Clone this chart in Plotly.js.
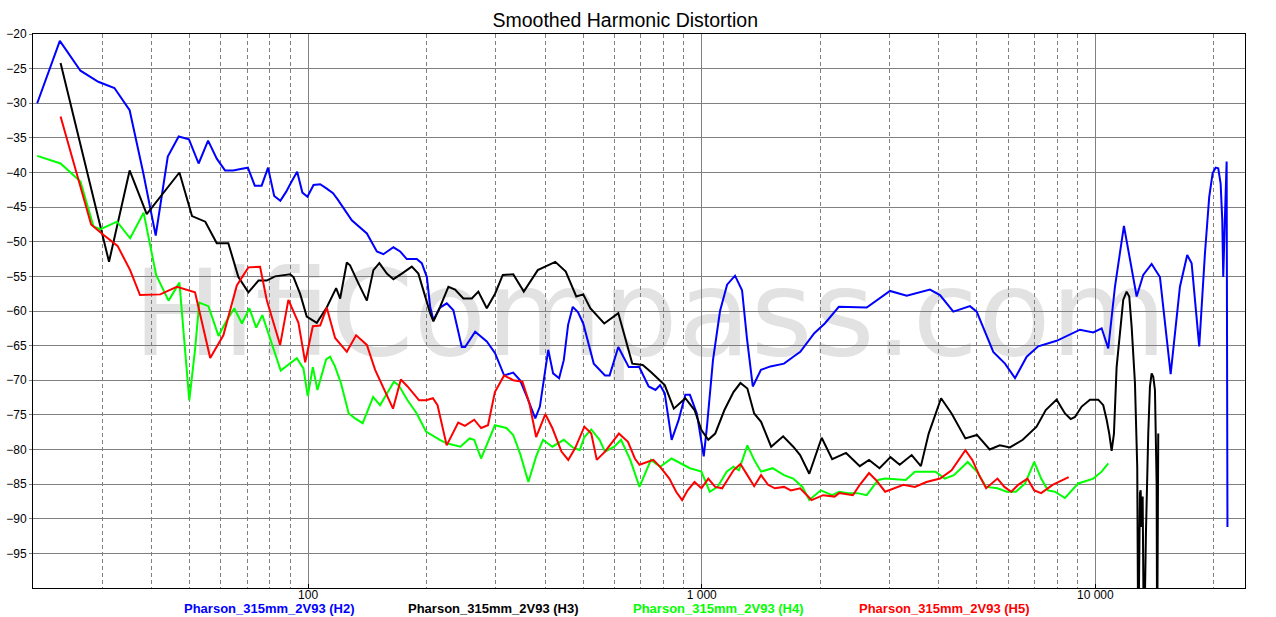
<!DOCTYPE html>
<html>
<head>
<meta charset="utf-8">
<script src="https://cdn.plot.ly/plotly-3.0.1.min.js"></script>
<style>html,body{margin:0;padding:0;background:#fff;}#chart{width:1276px;height:617px;}</style>
</head>
<body>
<div id="chart"></div>
<script>
const titleText = 'Smoothed Harmonic Distortion';
const seriesNames = ['Pharson_315mm_2V93 (H2)', 'Pharson_315mm_2V93 (H3)', 'Pharson_315mm_2V93 (H4)', 'Pharson_315mm_2V93 (H5)'];
const seriesColors = ['#0000ff', '#000000', '#00ff00', '#ff0000'];
const xTickVals = [100, 1000, 10000];
const xTickText = ['100', '1 000', '10 000'];
const xMinorVals = [30,40,50,60,70,80,90,200,300,400,500,600,700,800,900,2000,3000,4000,5000,6000,7000,8000,9000,20000];
const yTickVals = [-95,-90,-85,-80,-75,-70,-65,-60,-55,-50,-45,-40,-35,-30,-25,-20];

// H2
const fH2 = [20.5,23.4,26.4,29.3,32.2,35.2,38.1,41.0,44.0,46.9,
  49.8,52.7,55.7,58.6,61.5,64.5,67.4,70.3,73.2,76.2,
  79.1,82.0,85.0,87.9,90.8,93.8,96.7,99.6,103.2,107.3,
  111.3,115.7,119.2,124.2,129.1,141,149.5,155.3,164.7,171.3,
  178.1,188.8,194.4,200.3,204.2,208.1,216.4,225.1,233.9,245.7,
  250.5,265.7,284.4,298.5,314.7,331.9,345.6,359.7,377.7,388,
  400.6,407.4,419.2,434.2,446.2,457.6,470.3,485.1,500,531.8,
  567.9,583.4,613.8,652.6,693.9,733,763.2,783.6,805.4,838.7,
  872.9,908.5,933.3,971.8,1012,1031,1068,1113,1160,1215,
  1266,1303,1348,1414,1494,1618,1709,1780,1932,2054,
  2230,2381,2625,3008,3317,3801,4030,4356,4803,4995,
  5505,5895,6250,6692,7161,7973,9140,9879,10375,10784,
  11215,11820,12366,12733,13234,13900,14592,15536,16402,17117,
  17564,18361,18986,19468,19861,20212,20522,20813,21010,21132,
  21343,21556,21660];
const dbH2 = [-30,-21,-25.3,-26.9,-27.8,-31,-40,-49.1,-37.7,-34.8,
  -35.2,-38.7,-35.4,-38.0,-39.7,-39.7,-39.5,-39.3,-41.9,-41.9,
  -39.3,-43.4,-44.1,-42.8,-41.3,-39.9,-42.9,-43.5,-41.8,-41.7,
  -42.3,-43.0,-44.0,-45.5,-46.9,-48.8,-51.4,-51.8,-50.8,-51.4,
  -52.5,-52.5,-53.1,-55.1,-59.4,-61.3,-59.5,-58.9,-59.9,-65.2,
  -65.2,-63.0,-64.4,-66.1,-69.3,-68.9,-70.0,-72.4,-75.5,-73.8,
  -68.5,-65.6,-69.0,-69.7,-67.1,-62.0,-59.4,-60.2,-61.8,-67.6,
  -69.3,-69.3,-65.2,-68.1,-68.1,-70.9,-71.4,-70.7,-71.9,-78.6,
  -75.8,-72.1,-72.1,-74.8,-81.0,-76.7,-67.1,-60.0,-56.2,-54.9,
  -57.0,-64.0,-70.9,-68.5,-68.0,-67.6,-66.6,-65.9,-63.2,-61.8,
  -59.4,-59.4,-59.5,-57.1,-57.8,-56.9,-57.7,-60.1,-59.3,-60.1,
  -65.9,-67.6,-69.7,-66.6,-65.1,-64.3,-62.7,-63.1,-62.5,-65.4,
  -56.5,-47.7,-54.1,-57.9,-54.8,-53.2,-55.1,-69.1,-56.5,-51.9,
  -53.1,-65.1,-51.7,-43.5,-40.1,-39.3,-39.4,-41.6,-46.9,-55.1,
  -46.4,-38.4,-91.2];

// H3
const fH3 = [23.5,31.2,35.2,38.9,47.1,50.7,54.8,58.6,62.7,66.5,
  70.5,74.8,78.5,82.4,90.0,91.8,95.4,99.2,105.2,111.5,
  117.8,120.6,125.4,127.8,134.2,141.0,146.5,151.7,158.5,164.7,
  173.0,183.4,190.6,198.2,204.2,208.1,216.4,227.2,236.2,248.0,
  260.5,270.7,284.4,298.5,307.4,312.3,332.0,353.1,383.2,424.6,
  451.4,480.0,500.0,521.0,565.3,613.8,666.1,708.2,742.8,805.4,
  849.4,908.5,958.8,998.2,1039,1082,1142,1204,1254,1306,
  1359,1415,1501,1610,1708,1778,1876,2017,2145,2326,
  2521,2661,2829,3017,3184,3415,3604,3772,4056,4313,
  4676,5002,5390,5718,6066,6540,7090,7482,7973,8372,
  8656,8876,9231,9690,10170,10474,10684,10847,11000,11150,
  11325,11547,11772,12009,12193,12366,12607,12777,12853,12981,
  13035,13110,13189,13290,13444,13628,13763,13900,14032,14172,
  14256,14312,14355,14405,14448];
const dbH3 = [-24.2,-52.9,-39.7,-46.0,-40.0,-46.3,-47.1,-50.2,-50.2,-55.1,
  -57.3,-55.6,-55.6,-55.0,-54.7,-55.1,-57.5,-60.8,-61.7,-59.5,
  -56.7,-58.2,-53.0,-53.4,-56.0,-58.5,-54.1,-53.1,-54.6,-55.4,
  -54.6,-53.6,-54.6,-57.9,-60.3,-61.5,-59.4,-56.5,-56.9,-58.2,
  -58.2,-57.2,-59.6,-57.5,-55.8,-54.8,-54.7,-57.2,-54.1,-52.9,
  -54.3,-57.9,-57.6,-59.6,-61.8,-60.3,-67.6,-67.8,-68.8,-70.7,
  -74.1,-72.6,-74.3,-77.2,-78.6,-77.7,-74.3,-71.7,-70.4,-71.2,
  -74.8,-76.0,-79.6,-78.1,-79.6,-80.8,-83.5,-78.3,-81.4,-80.5,
  -82.4,-81.5,-82.7,-81.1,-82.2,-80.8,-82.4,-77.7,-72.6,-74.8,
  -78.4,-77.9,-80.0,-79.4,-79.7,-78.6,-76.7,-74.3,-72.8,-74.8,
  -75.6,-75.3,-73.8,-72.8,-72.8,-73.6,-75.7,-77.7,-80.2,-77.7,
  -68.1,-63.2,-58.4,-57.2,-57.9,-62.3,-70.4,-82.5,-110,-86.3,
  -85.9,-91.2,-86.8,-110,-92.1,-77.7,-70.9,-69.0,-69.5,-71.4,
  -77.7,-84.9,-110,-84.0,-77.7];

// H4
const fH4 = [20.5,23.5,26.4,28.5,29.6,32.7,35.3,38.2,41.1,44.2,
  47.1,49.9,51.6,52.9,55.8,59.2,61.5,64.9,67.9,70.9,
  73.8,76.5,85.2,90.0,93.6,97.3,99.8,102.8,105.6,111.1,
  113.7,117.0,121.3,126.8,131.6,137.6,146.3,152.3,158.6,165.2,
  169.7,178.9,188.8,199.3,216.0,224.9,243.7,257.2,264.2,275.1,
  286.4,298.2,319.0,331.9,345.6,362.7,379.6,395.3,417.3,446.2,
  470.6,489.9,503.3,524.0,550.1,567.9,599.4,623.7,658.4,694.8,
  742.9,784.0,838.1,884.6,933.3,998.2,1048,1097,1157,1204,
  1243,1306,1359,1415,1514,1618,1708,1802,1876,2006,
  2145,2234,2357,2487,2625,2808,2922,3298,3479,3722,
  3927,4143,4371,4740,5002,5278,5641,5954,6283,6631,
  6995,7284,7580,7892,8372,9049,9879,10375,10784];
const dbH4 = [-37.6,-38.7,-41.3,-47.8,-48.2,-47.1,-49.5,-45.8,-54.8,-58.5,
  -55.9,-72.9,-65.6,-58.8,-59.3,-63.6,-61.8,-59.6,-61.8,-59.6,
  -62.4,-60.6,-68.6,-67.6,-66.8,-68.3,-72.3,-68.1,-71.4,-67.0,
  -66.6,-68.0,-70.5,-74.8,-75.5,-76.2,-72.4,-73.6,-71.9,-70.2,
  -70.7,-72.9,-74.8,-77.4,-78.6,-79.1,-79.6,-78.4,-78.6,-81.3,
  -78.9,-76.5,-76.9,-77.9,-80.6,-84.7,-81.0,-78.6,-79.6,-78.6,
  -79.7,-80.1,-78.2,-77.1,-78.6,-80.3,-79.6,-78.6,-81.5,-85.4,
  -81.5,-82.5,-81.3,-82.0,-82.7,-83.2,-86.1,-85.4,-83.2,-82.5,
  -83.0,-79.4,-81.5,-83.2,-82.7,-83.7,-84.2,-85.4,-87.3,-85.9,
  -86.6,-86.1,-86.3,-86.3,-86.6,-84.4,-84.2,-84.4,-83.2,-83.2,
  -83.2,-84.2,-83.7,-81.8,-83.2,-85.4,-85.6,-86.1,-86.1,-84.9,
  -81.8,-84.2,-85.9,-86.1,-87.0,-84.9,-84.2,-83.2,-82.0];

// H5
const fH5 = [23.5,26.4,28.1,29.9,32.8,35.3,37.4,42.1,46.4,51.6,
  56.4,60.9,65.9,70.5,75.5,78.5,84.9,89.1,94.5,98.3,
  102.8,107.3,111.5,117.1,125.4,132.4,141.0,148.0,152.3,157.3,
  164.3,172.0,178.9,191.4,199.3,207.5,213.2,224.9,240.6,250.3,
  264.2,275.1,286.4,298.2,314.7,331.9,350.3,364.7,379.6,400.6,
  417.3,440.2,458.1,477.0,503.3,524.0,541.2,567.9,616,649.4,
  676.3,694.8,753.1,784.0,827.4,861.0,891.7,920.9,958.8,998.2,
  1039,1082,1127,1204,1254,1306,1359,1415,1474,1534,
  1618,1685,1778,1901,2034,2175,2234,2421,2521,2661,
  2770,2924,3083,3253,3479,3722,4032,4313,4676,4868,
  5068,5278,5641,5875,6115,6367,6720,6995,7284,7787,
  8554];
const dbH5 = [-31.9,-42.1,-47.5,-48.8,-50.6,-54.1,-57.7,-57.6,-56.5,-57.3,
  -66.8,-63.5,-56.3,-53.7,-53.6,-58.4,-64.9,-58.4,-61.7,-67.4,
  -62.2,-62.1,-59.5,-63.9,-65.9,-63.5,-64.9,-68.5,-70.0,-71.9,
  -74.1,-69.9,-70.9,-72.9,-72.9,-72.6,-73.6,-79.4,-76.1,-76.6,
  -75.7,-76.9,-76.5,-71.7,-69.3,-70.0,-70.2,-73.3,-78.2,-74.9,
  -76.9,-80.3,-81.5,-79.8,-76.7,-77.7,-81.5,-80.3,-77.7,-78.9,
  -81.3,-82.2,-81.5,-82.5,-84.2,-86.1,-87.3,-85.9,-84.7,-85.6,
  -84.2,-85.4,-85.6,-83.0,-82.1,-83.7,-85.3,-83.7,-85.1,-85.6,
  -85.4,-85.9,-85.6,-87.3,-86.6,-86.8,-86.3,-86.6,-85.1,-83.4,
  -84.4,-86.1,-85.6,-85.1,-85.4,-84.7,-84.2,-83.0,-80.1,-81.5,
  -83.7,-85.6,-84.2,-85.4,-86.1,-85.1,-84.2,-85.9,-86.3,-85.1,
  -84.0];

const freqs = [fH2, fH3, fH4, fH5];
const levels = [dbH2, dbH3, dbH4, dbH5];

const traces = freqs.map((f, i) => ({
  x: f, y: levels[i], type: 'scatter', mode: 'lines', name: seriesNames[i],
  line: {color: seriesColors[i], width: 2}, showlegend: false, hoverinfo: 'skip'
}));

const legendX = [0.1246, 0.3094, 0.495, 0.6815];
const annotations = seriesNames.map((n, i) => ({
  text: n, xref: 'paper', yref: 'paper', x: legendX[i], y: -0.0514,
  xanchor: 'left', yanchor: 'bottom', showarrow: false, borderpad: 0, borderwidth: 0,
  font: {family: 'Arial, Liberation Sans, sans-serif', size: 13, color: seriesColors[i], weight: 'bold'}
}));

const layout = {
  width: 1276, height: 617,
  margin: {l: 33, r: 31, t: 34, b: 29},
  paper_bgcolor: '#ffffff', plot_bgcolor: 'rgba(0,0,0,0)',
  title: {text: titleText, font: {family: 'Arial, Liberation Sans, sans-serif', size: 19.5, color: '#000'},
    x: 0.49, xref: 'container', y: 0.967, yref: 'container', yanchor: 'middle'},
  xaxis: {
    type: 'log', range: [Math.log10(20), Math.log10(24000)],
    tickmode: 'array', tickvals: xTickVals, ticktext: xTickText,
    showgrid: true, gridcolor: '#808080', gridwidth: 1,
    showline: true, linecolor: '#000', linewidth: 1, mirror: true,
    ticks: 'inside', ticklen: 4, tickcolor: '#000', zeroline: false,
    ticklabelstandoff: -4,
    tickfont: {family: 'Arial, Liberation Sans, sans-serif', size: 12, color: '#000'},
    minor: {tickmode: 'array', tickvals: xMinorVals, showgrid: true, gridcolor: '#808080', gridwidth: 1, griddash: '4px,3px', ticks: ''}
  },
  yaxis: {
    range: [-100, -20], tickmode: 'array', tickvals: yTickVals,
    showgrid: true, gridcolor: '#808080', gridwidth: 1,
    showline: true, linecolor: '#000', linewidth: 1, mirror: true,
    ticks: 'outside', ticklen: 3, tickcolor: '#808080', zeroline: false,
    tickfont: {family: 'Arial, Liberation Sans, sans-serif', size: 12, color: '#000'}
  },
  shapes: [{
    type: 'rect', xref: 'paper', yref: 'paper', x0: 0.309, x1: 0.709, y0: 0.461, y1: 0.561,
    line: {width: 0}, fillcolor: 'rgba(0,0,0,0)', layer: 'below',
    label: {text: 'HifiCompass.com', textposition: 'middle center',
      font: {family: 'DejaVu Sans', size: 119, color: '#e2e2e2'}}
  }],
  annotations: annotations
};

Plotly.newPlot('chart', traces, layout, {displayModeBar: false, staticPlot: true});
</script>
</body>
</html>
